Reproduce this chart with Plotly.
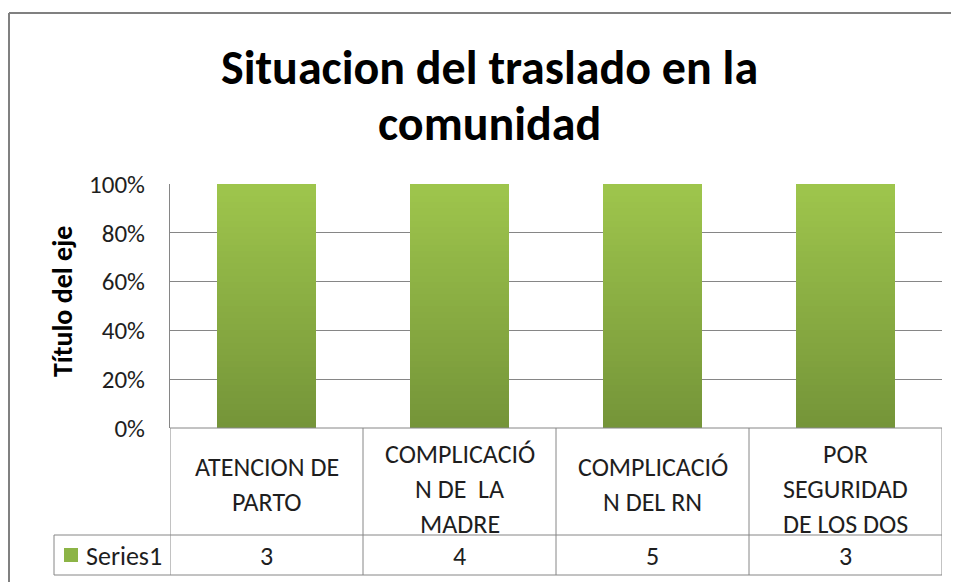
import plotly.graph_objects as go

# ---- data ----
categories = ["ATENCION DE PARTO", "COMPLICACIÓN DE  LA MADRE", "COMPLICACIÓN DEL RN", "POR SEGURIDAD DE LOS DOS"]
category_lines = [["ATENCION DE", "PARTO"],
                  ["COMPLICACIÓ", "N DE  LA", "MADRE"],
                  ["COMPLICACIÓ", "N DEL RN"],
                  ["POR", "SEGURIDAD", "DE LOS DOS"]]
series_name = "Series1"
values = [3, 4, 5, 3]
y_ticks = [0, 20, 40, 60, 80, 100]
title_lines = ["Situacion del traslado en la", "comunidad"]
axis_title = "Título del eje"

# ---- geometry (screen pixels; page body has an 8px margin) ----
OFF = 8
W, H = 959 - OFF, 582 - OFF
L, R, T, B = 170, 942, 184, 428          # plot area in screen px
PW, PH = R - L, B - T
FONT = "Calibri, Carlito, Lato, sans-serif"
GRID = "#868686"
TXT = "#1e1e1e"
TOP_C = (158, 197, 76)
BOT_C = (117, 149, 57)


def px(xs):
    return (xs - L) / PW


def py(ys):
    return (B - ys) / PH


fig = go.Figure()

# gradient bars: each bar stacked from thin slices of its own value (normalised to 100%)
N = 40
xs = list(range(len(categories)))
for k in range(N):
    t = k / (N - 1)
    c = tuple(round(BOT_C[j] + (TOP_C[j] - BOT_C[j]) * t) for j in range(3))
    fig.add_trace(go.Bar(
        x=xs, y=[v / N for v in values], name=series_name,
        marker=dict(color="rgb(%d,%d,%d)" % c, line=dict(width=0)),
        width=0.51, showlegend=False, hoverinfo="skip",
    ))

fig.update_layout(
    width=W, height=H,
    margin=dict(l=L - OFF, r=W - (R - OFF), t=T - OFF, b=H - (B - OFF)),
    paper_bgcolor="white", plot_bgcolor="white",
    barmode="stack", barnorm="percent",
    font=dict(family=FONT, color=TXT),
    showlegend=False,
)
fig.update_xaxes(range=[-0.5, len(categories) - 0.5], showticklabels=False,
                 showgrid=False, zeroline=False, showline=False, fixedrange=True)
fig.update_yaxes(range=[0, 100], tickvals=y_ticks, ticktext=["%d%%" % v for v in y_ticks],
                 showgrid=True, gridcolor=GRID, gridwidth=1, zeroline=False,
                 showline=True, linecolor=GRID, linewidth=1,
                 ticks="", ticklabelstandoff=19,
                 tickfont=dict(size=25, family=FONT, color=TXT), fixedrange=True)

TBL_L, ROW1_B, ROW2_B = 54, 535, 575
shapes = []
line = dict(color=GRID, width=1)
# table horizontal lines
shapes.append(dict(type="line", xref="paper", yref="paper", x0=px(L), x1=px(R), y0=py(B), y1=py(B), line=line))
for yy in (ROW1_B, ROW2_B):
    shapes.append(dict(type="line", xref="paper", yref="paper", x0=px(TBL_L), x1=px(R), y0=py(yy), y1=py(yy), line=line))
# table vertical lines
for i in range(len(categories) + 1):
    shapes.append(dict(type="line", xref="x", yref="paper", x0=i - 0.5, x1=i - 0.5,
                       y0=py(B), y1=py(ROW2_B), line=line))
shapes.append(dict(type="line", xref="paper", yref="paper", x0=px(TBL_L), x1=px(TBL_L),
                   y0=py(ROW1_B), y1=py(ROW2_B), line=line))
# legend key
shapes.append(dict(type="rect", xref="paper", yref="paper", x0=px(64), x1=px(78),
                   y0=py(562), y1=py(548), line=dict(width=0),
                   fillcolor="rgb(140,180,70)"))
# outer chart border
shapes.append(dict(type="line", xref="paper", yref="paper", x0=px(9), x1=px(9),
                   y0=py(13), y1=py(600), line=dict(color="#808080", width=2)))
shapes.append(dict(type="line", xref="paper", yref="paper", x0=px(9), x1=px(980),
                   y0=py(13), y1=py(13), line=dict(color="#808080", width=2)))

ann = []
# title
for i, tl in enumerate(title_lines):
    ann.append(dict(text="<b>%s</b>" % tl, xref="paper", yref="paper", x=px(489), y=py(68 + 56 * i),
                    xanchor="center", yanchor="middle", showarrow=False,
                    font=dict(size=48, family=FONT, color="#000")))
# axis title
ann.append(dict(text="<b>%s</b>" % axis_title, xref="paper", yref="paper", x=px(62), y=py(302),
                xanchor="center", yanchor="middle", textangle=-90, showarrow=False,
                font=dict(size=28, family=FONT, color="#000")))
# category labels
for i, lines in enumerate(category_lines):
    n = len(lines)
    center = 484.5 if n == 2 else 488.5
    for j, t in enumerate(lines):
        yy = center + (j - (n - 1) / 2) * 35
        ann.append(dict(text=t, xref="x", yref="paper", x=i, y=py(yy), xanchor="center",
                        yanchor="middle", showarrow=False,
                        font=dict(size=26, family=FONT, color=TXT)))
# series row
ann.append(dict(text=series_name, xref="paper", yref="paper", x=px(84), y=py(556), xanchor="left",
                yanchor="middle", showarrow=False, font=dict(size=26, family=FONT, color=TXT)))
for i, v in enumerate(values):
    ann.append(dict(text=str(v), xref="x", yref="paper", x=i, y=py(556), xanchor="center",
                    yanchor="middle", showarrow=False, font=dict(size=26, family=FONT, color=TXT)))

fig.update_layout(shapes=shapes, annotations=ann)
fig.write_html("out.html")
